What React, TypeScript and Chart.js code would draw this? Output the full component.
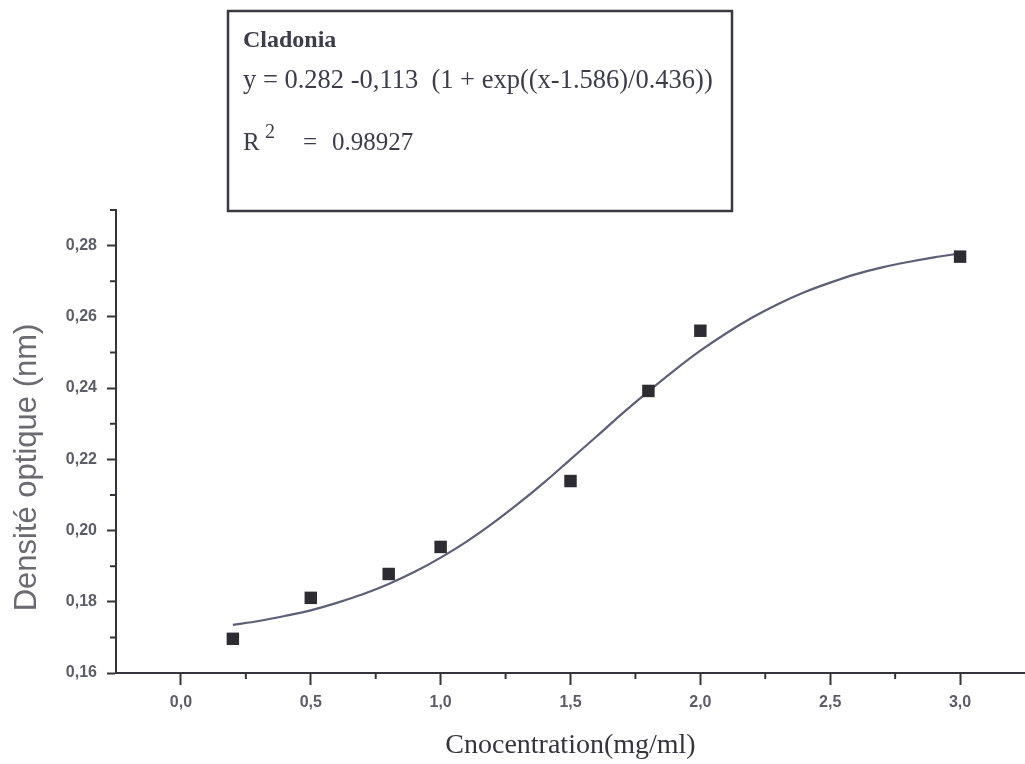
import React, { useEffect, useRef } from "react";
import { Chart, registerables } from "chart.js";

Chart.register(...registerables);

// Measured points (concentration mg/ml -> optical density)
const CONC = [0.2, 0.5, 0.8, 1.0, 1.5, 1.8, 2.0, 3.0];
const DENSITY = [0.1696, 0.1811, 0.1878, 0.1954, 0.2139, 0.2392, 0.2561, 0.2769];

// Fitted curve
const FIT_X = [0.2, 0.3, 0.4, 0.5, 0.6, 0.7, 0.8, 0.9, 1.0, 1.1, 1.2, 1.3, 1.4, 1.5, 1.6, 1.7, 1.8, 1.9, 2.0, 2.1, 2.2, 2.3, 2.4, 2.5, 2.6, 2.7, 2.8, 2.9, 3.0];
const FIT_Y = [0.1735, 0.1746, 0.176, 0.1776, 0.1797, 0.1821, 0.185, 0.1884, 0.1924, 0.1969, 0.202, 0.2076, 0.2136, 0.22, 0.2264, 0.2329, 0.2391, 0.245, 0.2505, 0.2554, 0.2598, 0.2636, 0.2669, 0.2696, 0.272, 0.2739, 0.2754, 0.2767, 0.2778];

// Axis ticks
const X_MAJOR = [0, 0.5, 1.0, 1.5, 2.0, 2.5, 3.0];
const X_MINOR = [0.25, 0.75, 1.25, 1.75, 2.25, 2.75];
const Y_MAJOR = [0.16, 0.18, 0.2, 0.22, 0.24, 0.26, 0.28];
const Y_MINOR = [0.17, 0.19, 0.21, 0.23, 0.25, 0.27, 0.29];

const BOX_TITLE = "Cladonia";
const FIT_EQUATION = "y = 0.282 -0,113  (1 + exp((x-1.586)/0.436))";
const R2_LABEL = "R";
const R2_VALUE = "0.98927";
const X_TITLE = "Cnocentration(mg/ml)";
const Y_TITLE = "Densité optique (nm)";

const AXIS_COLOR = "#34343a";

const extrasPlugin = {
  id: "extras",
  afterDraw(chart: any) {
    const ctx = chart.ctx;
    const xs = chart.scales.x;
    const ys = chart.scales.y;
    const area = chart.chartArea;
    ctx.save();
    // minor ticks
    ctx.strokeStyle = AXIS_COLOR;
    ctx.lineWidth = 2;
    ctx.beginPath();
    X_MINOR.forEach((v) => {
      const px = xs.getPixelForValue(v);
      ctx.moveTo(px, area.bottom);
      ctx.lineTo(px, area.bottom + 6);
    });
    Y_MINOR.forEach((v) => {
      const py = ys.getPixelForValue(v);
      ctx.moveTo(area.left, py);
      ctx.lineTo(area.left - 6, py);
    });
    ctx.stroke();

    // y axis title
    ctx.save();
    ctx.translate(27, (area.top + area.bottom) / 2 + 26);
    ctx.rotate(-Math.PI / 2);
    ctx.fillStyle = "#6a6a72";
    ctx.font = '31px "Liberation Sans", Arial, sans-serif';
    ctx.textAlign = "center";
    ctx.textBaseline = "middle";
    ctx.fillText(Y_TITLE, 0, 0);
    ctx.restore();

    // fit annotation box
    ctx.strokeStyle = "#3a3a42";
    ctx.lineWidth = 2.5;
    ctx.strokeRect(228, 11, 504, 200);
    ctx.fillStyle = "#3c3c4a";
    ctx.textBaseline = "alphabetic";
    ctx.textAlign = "left";
    ctx.font = 'bold 24px "Liberation Serif"';
    ctx.fillText(BOX_TITLE, 243, 47);
    ctx.font = '26.5px "Liberation Serif"';
    ctx.fillText(FIT_EQUATION, 243, 88);
    ctx.font = '25px "Liberation Serif"';
    ctx.fillText(R2_LABEL, 243, 150);
    ctx.font = '20px "Liberation Serif"';
    ctx.fillText("2", 265, 138);
    ctx.font = '25px "Liberation Serif"';
    ctx.fillText("=", 303, 150);
    ctx.fillText(R2_VALUE, 332, 150);
    ctx.restore();
  },
};

export default function App() {
  const ref = useRef<HTMLCanvasElement | null>(null);

  useEffect(() => {
    if (!ref.current) return;
    const fitData = FIT_X.map((x, i) => ({ x, y: FIT_Y[i] }));
    const ptData = CONC.map((x, i) => ({ x, y: DENSITY[i] }));
    const tickFont = { family: '"Liberation Sans", Arial, sans-serif', size: 16, weight: "bold" as const };
    const chart = new Chart(ref.current, {
      type: "scatter",
      data: {
        datasets: [
          {
            label: "Points",
            data: ptData,
            showLine: false,
            pointStyle: "rect",
            pointRadius: 8.8,
            pointHoverRadius: 8.8,
            backgroundColor: "#2c2c32",
            borderColor: "#2c2c32",
            borderWidth: 0,
            order: 1,
          },
          {
            label: "Fit",
            data: fitData,
            showLine: true,
            pointRadius: 0,
            borderColor: "#5b5f78",
            borderWidth: 2.2,
            tension: 0.4,
            cubicInterpolationMode: "monotone",
            fill: false,
            order: 2,
          },
        ],
      },
      options: {
        responsive: false,
        animation: false,
        events: [],
        layout: { autoPadding: false, padding: { top: 210, left: 0, right: -4, bottom: 0 } },
        plugins: { legend: { display: false }, tooltip: { enabled: false }, title: { display: false } },
        scales: {
          x: {
            type: "linear",
            min: -0.25,
            max: 3.25,
            afterBuildTicks: (s: any) => {
              s.ticks = X_MAJOR.map((v) => ({ value: v }));
            },
            afterFit: (s: any) => {
              s.height = 91;
            },
            border: { display: true, color: AXIS_COLOR, width: 2 },
            grid: { display: true, drawOnChartArea: false, drawTicks: true, tickLength: 12, tickColor: AXIS_COLOR, tickWidth: 2 },
            ticks: {
              color: "#5c5c66",
              font: tickFont,
              padding: 8,
              maxRotation: 0,
              callback: (v: any) => Number(v).toFixed(1).replace(".", ","),
            },
            title: {
              display: true,
              text: X_TITLE,
              color: "#34343e",
              font: { family: '"Liberation Serif", serif', size: 28 },
              padding: { top: 0, bottom: 2 },
            },
          },
          y: {
            type: "linear",
            min: 0.16,
            max: 0.29,
            afterBuildTicks: (s: any) => {
              s.ticks = Y_MAJOR.map((v) => ({ value: v }));
            },
            afterFit: (s: any) => {
              s.width = 116;
            },
            border: { display: true, color: AXIS_COLOR, width: 2 },
            grid: { display: true, drawOnChartArea: false, drawTicks: true, tickLength: 9, tickColor: AXIS_COLOR, tickWidth: 2 },
            ticks: {
              color: "#5c5c66",
              font: tickFont,
              padding: 10,
              callback: (v: any) => Number(v).toFixed(2).replace(".", ","),
            },
            title: { display: false, text: Y_TITLE },
          },
        },
      },
      plugins: [extrasPlugin],
    });
    return () => chart.destroy();
  }, []);

  return (
    <div style={{ position: "absolute", left: 0, top: 0, width: 1025, height: 764, background: "#fff" }}>
      <canvas ref={ref} width={1025} height={764} style={{ display: "block", width: 1025, height: 764 }} />
    </div>
  );
}
